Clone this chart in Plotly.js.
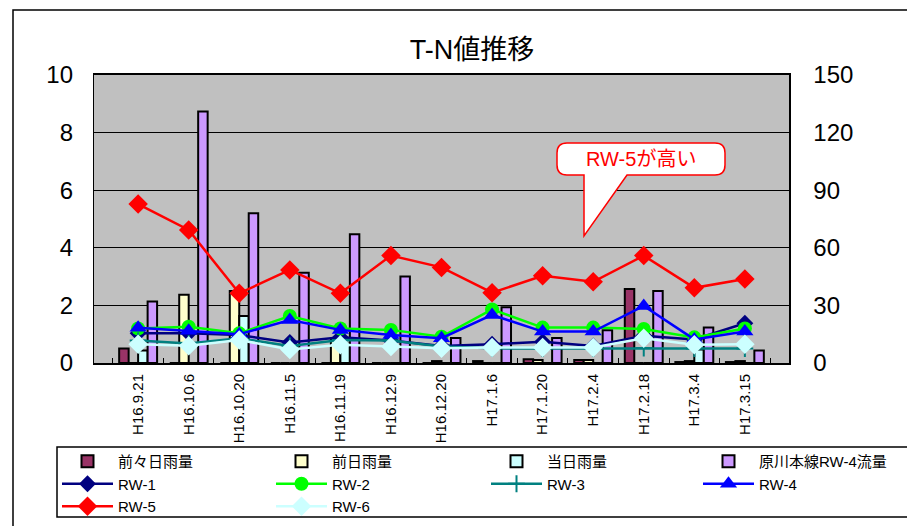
<!DOCTYPE html>
<html>
<head>
<meta charset="utf-8">
<script src="https://cdn.plot.ly/plotly-3.0.1.min.js"></script>
<style>html,body{margin:0;padding:0;background:#fff;}#chart{width:907px;height:526px;}</style>
</head>
<body>
<div id="chart"></div>
<script>
// ---- data ----
const dates = ["H16.9.21","H16.10.6","H16.10.20","H16.11.5","H16.11.19","H16.12.9","H16.12.20","H17.1.6","H17.1.20","H17.2.4","H17.2.18","H17.3.4","H17.3.15"];
// bars (right axis, 0-150)
const rain2DaysBefore = [7.5, 0, 0, 0, 0, 0, 0, 1, 2, 1.5, 38.5, 0.5, 0.5];
const rainDayBefore   = [0, 35.5, 37.5, 0, 12, 0, 1, 0, 1.5, 1.5, 0, 1, 1];
const rainSameDay     = [6.5, 0, 24.5, 0, 10, 0, 0, 0, 0, 0, 0, 7, 0];
const flowRW4         = [32, 131, 78, 47, 67, 45, 13, 29, 13, 17, 37.5, 18.5, 6.5];
// lines (left axis, 0-10)
const rw1 = [1.03, 1.03, 0.97, 0.71, 0.89, 0.78, 0.59, 0.65, 0.74, 0.59, 0.95, 0.82, 1.38];
const rw2 = [1.20, 1.26, 1.03, 1.63, 1.20, 1.15, 0.91, 1.86, 1.23, 1.23, 1.18, 0.89, 1.20];
const rw3 = [0.78, 0.68, 0.86, 0.59, 0.80, 0.78, 0.57, 0.51, 0.50, 0.50, 0.52, 0.50, 0.50];
const rw4 = [1.22, 1.12, 1.00, 1.49, 1.15, 0.97, 0.86, 1.67, 1.09, 1.09, 1.98, 0.82, 1.09];
const rw5 = [5.52, 4.62, 2.42, 3.23, 2.42, 3.73, 3.32, 2.44, 3.03, 2.82, 3.73, 2.61, 2.92];
const rw6 = [0.65, 0.60, 0.80, 0.47, 0.63, 0.57, 0.51, 0.54, 0.54, 0.54, 0.86, 0.63, 0.65];

const JP = '"Liberation Sans", "Noto Sans CJK JP", sans-serif';

function bar(name, y, color, lg) {
  return {type:'bar', name:name, x:dates, y:y, yaxis:'y', legend:lg,
    marker:{color:color, line:{color:'#000', width:2}}};
}
function line(name, y, color, symbol, size, lg, extra) {
  return Object.assign({type:'scatter', mode:'lines+markers', name:name, x:dates, y:y, yaxis:'y2', legend:lg,
    line:{color:color, width:2.5},
    marker:{symbol:symbol, size:size, color:color, line:{color:color, width:0}}}, extra||{});
}

const traces = [
  bar('前々日雨量', rain2DaysBefore, '#993366', 'legend'),
  bar('前日雨量', rainDayBefore, '#FFFFCC', 'legend2'),
  bar('当日雨量', rainSameDay, '#CCFFFF', 'legend3'),
  bar('原川本線RW-4流量', flowRW4, '#CC99FF', 'legend4'),
  line('RW-1', rw1, '#000080', 'diamond', 13, 'legend'),
  line('RW-2', rw2, '#00FF00', 'circle', 14, 'legend2'),
  line('RW-3', rw3, '#008080', 'cross-thin', 12, 'legend3', {marker:{symbol:'cross-thin', size:12, color:'#008080', line:{color:'#008080', width:2}}}),
  line('RW-4', rw4, '#0000FF', 'triangle-up', 15, 'legend4'),
  line('RW-5', rw5, '#FF0000', 'diamond', 15, 'legend'),
  line('RW-6', rw6, '#CCFFFF', 'diamond', 15, 'legend2')
];

// pixel helpers for decoration
const PL=94, PR=789, PT=75, PB=363;
const px = v => (v-PL)/(PR-PL);
const py = v => (PB-v)/(PB-PT);
const callout =
  'M'+px(567)+','+py(143)+' L'+px(715)+','+py(143)+
  ' Q'+px(725)+','+py(143)+' '+px(725)+','+py(153)+
  ' L'+px(725)+','+py(165)+
  ' Q'+px(725)+','+py(175)+' '+px(715)+','+py(175)+
  ' L'+px(627)+','+py(175)+' L'+px(584)+','+py(236)+' L'+px(584)+','+py(175)+
  ' L'+px(567)+','+py(175)+
  ' Q'+px(557)+','+py(175)+' '+px(557)+','+py(165)+
  ' L'+px(557)+','+py(153)+
  ' Q'+px(557)+','+py(143)+' '+px(567)+','+py(143)+' Z';

function legendAt(leftPx) {
  return {orientation:'v', xref:'container', yref:'container', x:leftPx/907, xanchor:'left',
    y:1-445/526, yanchor:'top', itemwidth:51, traceorder:'normal',
    bgcolor:'rgba(0,0,0,0)', borderwidth:0, font:{size:15, family:JP}};
}

const layout = {
  width:907, height:526,
  margin:{l:PL, r:907-PR, t:PT, b:526-PB, autoexpand:false},
  paper_bgcolor:'#fff', plot_bgcolor:'#C0C0C0',
  font:{family:JP, color:'#000'},
  title:{text:'T-N値推移', font:{size:27, family:JP, color:'#000'},
    x:px(472), xref:'paper', xanchor:'center', y:1-50/526, yanchor:'middle'},
  barmode:'group', bargap:0.25, bargroupgap:0,
  showlegend:true,
  legend:legendAt(57), legend2:legendAt(271), legend3:legendAt(486), legend4:legendAt(698),
  xaxis:{type:'category', tickangle:-90, tickfont:{size:15, family:'"Liberation Sans", sans-serif'},
    ticks:'inside', tickson:'boundaries', ticklen:5, tickcolor:'#000', tickwidth:1,
    showline:true, linecolor:'#000', linewidth:2, mirror:true,
    showgrid:false, ticklabelstandoff:3, anchor:'y'},
  yaxis:{side:'right', range:[0,150], tickvals:[0,30,60,90,120,150],
    showgrid:true, gridcolor:'#000', gridwidth:1, zeroline:false,
    showline:true, linecolor:'#000', linewidth:1.5, mirror:true,
    tickfont:{size:24, family:'"Liberation Sans", sans-serif'}, ticks:'', ticklabelstandoff:18},
  yaxis2:{overlaying:'y', side:'left', range:[0,10], tickvals:[0,2,4,6,8,10],
    showgrid:false, zeroline:false, showline:false, anchor:'x',
    tickfont:{size:24, family:'"Liberation Sans", sans-serif'}, ticks:'', ticklabelstandoff:20},
  shapes:[
    {type:'path', xref:'paper', yref:'paper', path:callout, fillcolor:'#fff', line:{color:'#FF0000', width:1.5}, layer:'above'},
    {type:'rect', xref:'paper', yref:'paper', x0:px(13), x1:px(912), y0:py(10), y1:py(540), line:{color:'#000', width:1.5}, fillcolor:'rgba(0,0,0,0)'},
    {type:'rect', xref:'paper', yref:'paper', x0:px(57), x1:px(912), y0:py(447), y1:py(517), line:{color:'#000', width:1.5}, fillcolor:'#fff'}
  ],
  annotations:[
    {xref:'paper', yref:'paper', x:px(641), y:py(159), text:'RW-5が高い', showarrow:false,
      xanchor:'center', yanchor:'middle', font:{size:20, color:'#FF0000', family:JP}}
  ]
};

Plotly.newPlot('chart', traces, layout, {staticPlot:true, displayModeBar:false});
</script>
</body>
</html>
